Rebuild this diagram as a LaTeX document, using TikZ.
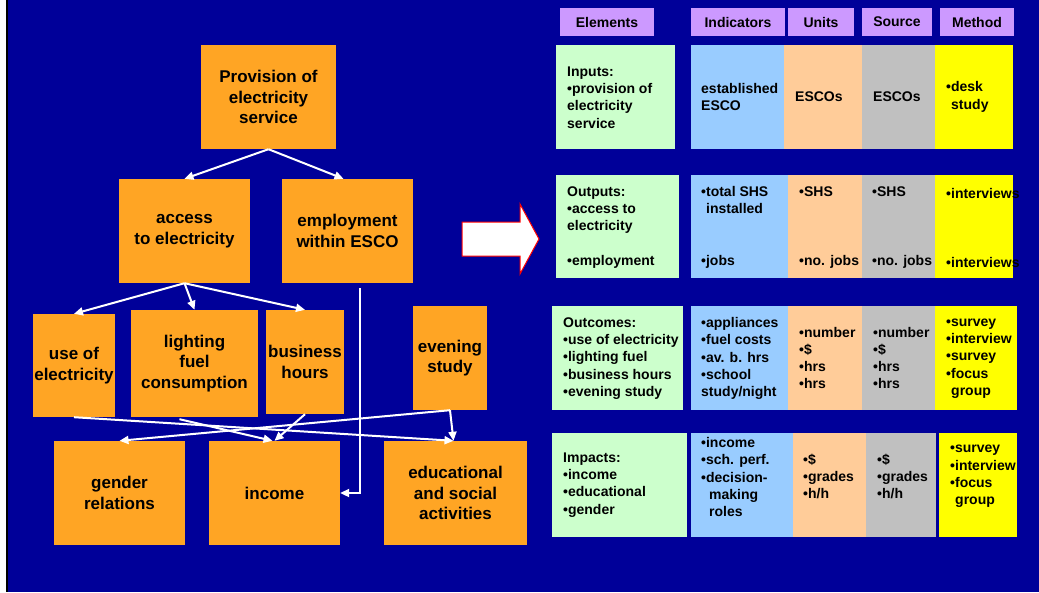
\documentclass[tikz,border=0pt]{standalone}
\usepackage{fontspec}
\setmainfont{Liberation Sans}
\usetikzlibrary{arrows.meta,calc}

\definecolor{bgblue}{HTML}{000099}
\definecolor{boxorange}{HTML}{FFA524}
\definecolor{hdrpurple}{HTML}{CC99FF}
\definecolor{elgreen}{HTML}{CCFFCC}
\definecolor{indblue}{HTML}{99CCFF}
\definecolor{unitpeach}{HTML}{FFCC99}
\definecolor{srcgrey}{HTML}{C0C0C0}
\definecolor{methyellow}{HTML}{FFFF00}

\newcommand\tabfont{\fontsize{14}{17.25}\selectfont\bfseries}
\newcommand\boxfont{\fontsize{17}{20.5}\selectfont\bfseries}

\begin{document}
\begin{tikzpicture}[x=1pt,y=-1pt,
  box/.style={fill=boxorange, inner sep=0pt, align=center, font=\boxfont, text=black},
  conn/.style={draw=white, line width=2pt, -{Triangle[length=9pt,width=8pt]}},
  hdr/.style={fill=hdrpurple, inner sep=0pt, minimum height=28pt, font=\tabfont},
  cell/.style={anchor=west, inner sep=0pt, align=left, font=\tabfont}]

% page background with the left margin strip
\useasboundingbox (0,0) rectangle (1039,592);
\fill[white] (0,0) rectangle (1039,592);
\fill[bgblue] (6,0) rectangle (1039,592);
\fill[black] (6,0) rectangle (8,592);

% ---------- causal chain ----------
\node[box, minimum width=135pt, minimum height=104pt] (prov) at (268.5,97) {Provision of\\electricity\\service};
\node[box, minimum width=131pt, minimum height=104pt] (acc) at (184.5,231) {access\\to electricity};
\node[box, minimum width=131pt, minimum height=104pt] (emp) at (347.5,231) {employment\\within ESCO};
\node[box, minimum width=82pt, minimum height=103pt] (uoe) at (74,365.5) {use of\\electricity};
\node[box, minimum width=127pt, minimum height=107pt] (lf) at (194.5,363.5) {lighting\\fuel\\consumption};
\node[box, minimum width=78pt, minimum height=104pt] (bh) at (305,362) {business\\hours};
\node[box, minimum width=74pt, minimum height=104pt] (es) at (450,358) {evening\\study};
\node[box, minimum width=131pt, minimum height=104pt] (gr) at (119.5,493) {gender\\relations};
\node[box, minimum width=131pt, minimum height=104pt] (inc) at (274.5,493) {income};
\node[box, minimum width=143pt, minimum height=104pt] (edu) at (455.5,493) {educational\\and social\\activities};

\draw[conn] (prov.south) -- (acc.north);
\draw[conn] (prov.south) -- ($(emp.north)+(-4,0)$);
\draw[conn] (acc.south) -- (uoe.north);
\draw[conn] (acc.south) -- (lf.north);
\draw[conn] (acc.south) -- (bh.north);
\draw[conn] ($(emp.south)+(12.5,5)$) |- (inc.east);
\draw[conn] (uoe.south) -- ($(edu.north)+(-2,0)$);
\draw[conn] ($(lf.south)+(-15,2)$) -- ($(inc.north)+(-2,0)$);
\draw[conn] (bh.south) -- (inc.north);
\draw[conn] (es.south) -- (gr.north);
\draw[conn] (es.south) -- ($(edu.north)+(-2,0)$);

% block arrow pointing to the table
\draw[fill=white, draw=red, line width=1pt]
  (462,222) -- (520,222) -- (520,204) -- (539,239) -- (520,274) -- (520,256) -- (462,256) -- cycle;

% ---------- indicator table ----------
\node[hdr, minimum width=94pt] (hEl) at (607,22) {Elements};
\node[hdr, minimum width=94pt] (hIn) at (738,22) {Indicators};
\node[hdr, minimum width=66pt] (hUn) at (821,22) {Units};
\node[hdr, minimum width=70pt] (hSr) at (897,22) {Source};
\node[hdr, minimum width=74pt] (hMe) at (977,22) {Method};

% row 1
\fill[elgreen]    (556,45) rectangle (675,149);
\fill[indblue]    (691,45) rectangle (784,149);
\fill[unitpeach]  (784,45) rectangle (862,149);
\fill[srcgrey]    (862,45) rectangle (935,149);
\fill[methyellow] (935,45) rectangle (1013,149);
% row 2
\fill[elgreen]    (556,175) rectangle (679,278);
\fill[indblue]    (691,175) rectangle (788,278);
\fill[unitpeach]  (788,175) rectangle (862,278);
\fill[srcgrey]    (862,175) rectangle (935,278);
\fill[methyellow] (935,175) rectangle (1013,278);
% row 3
\fill[elgreen]    (552,306) rectangle (683,410);
\fill[indblue]    (691,306) rectangle (788,410);
\fill[unitpeach]  (788,306) rectangle (862,410);
\fill[srcgrey]    (862,306) rectangle (935,410);
\fill[methyellow] (935,306) rectangle (1017,410);
% row 4
\fill[elgreen]    (552,433) rectangle (687,537);
\fill[indblue]    (691,433) rectangle (793,537);
\fill[unitpeach]  (793,433) rectangle (866,537);
\fill[srcgrey]    (866,433) rectangle (936,537);
\fill[methyellow] (939,433) rectangle (1017,537);

% row 1 texts
\node[cell] (in1) at (567,97.5) {Inputs:\\•provision of\\electricity\\service};
\node[cell] (id1) at (701,97) {established\\ESCO};
\node[cell] (un1) at (795,97) {ESCOs};
\node[cell] (sr1) at (873,97) {ESCOs};
\node[cell] (me1) at (946,97) {•desk\\\hspace*{5pt}study};

% row 2 texts
\node[cell] (in2) at (567,227.5) {Outputs:\\•access to\\electricity\\[17.25pt]•employment};
\node[cell] (id2) at (701,227.5) {•total SHS\\\hspace*{5pt}installed\\[34.5pt]•jobs};
\node[cell] (un2) at (799,227.5) {•SHS\\[51.75pt]•no. jobs};
\node[cell] (sr2) at (872,227.5) {•SHS\\[51.75pt]•no. jobs};
\node[cell] (me2) at (946,227.5) {•interviews\\[51.75pt]•interviews};

% row 3 texts
\node[cell] (in3) at (563,358.5) {Outcomes:\\•use of electricity\\•lighting fuel\\•business hours\\•evening study};
\node[cell] (id3) at (701,358.5) {•appliances\\•fuel costs\\•av. b. hrs\\•school\\study/night};
\node[cell] (un3) at (799,358) {•number\\•\$\\•hrs\\•hrs};
\node[cell] (sr3) at (873,358) {•number\\•\$\\•hrs\\•hrs};
\node[cell] (me3) at (946,358.5) {•survey\\•interview\\•survey\\•focus\\\hspace*{5pt}group};

% row 4 texts
\node[cell] (in4) at (563,485) {Impacts:\\•income\\•educational\\•gender};
\node[cell] (id4) at (701,477) {•income\\•sch. perf.\\•decision-\\\hspace*{8pt}making\\\hspace*{8pt}roles};
\node[cell] (un4) at (803,476.5) {•\$\\•grades\\•h/h};
\node[cell] (sr4) at (877,476.5) {•\$\\•grades\\•h/h};
\node[cell] (me4) at (950,476.5) {•survey\\•interview\\•focus\\\hspace*{5pt}group};

\end{tikzpicture}
\end{document}
